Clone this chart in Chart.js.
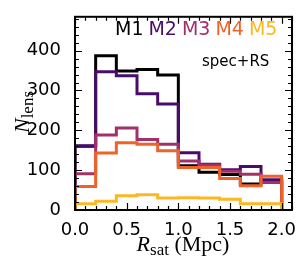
<!DOCTYPE html>
<html>
<head>
<meta charset="utf-8">
<script src="https://cdn.jsdelivr.net/npm/chart.js@4/dist/chart.umd.min.js"></script>
<style>
  html, body { margin: 0; padding: 0; background: #fff; }
  #wrap { width: 305px; height: 271px; }
</style>
</head>
<body>
<div id="wrap"><canvas id="c" width="305" height="271"></canvas></div>
<script>
// bin edges (Mpc), 10 bins of 0.2
var binEdges = [0.0, 0.2, 0.4, 0.6, 0.8, 1.0, 1.2, 1.4, 1.6, 1.8, 2.0];
var seriesNames = ['M1', 'M2', 'M3', 'M4', 'M5'];
var seriesColors = ['#000000', '#4a0c6b', '#a2306a', '#ef6228', '#fcb822'];

var m1 = [160, 387, 349, 353, 339, 111, 95, 89, 65, 73];
var m2 = [161, 347, 337, 292, 266, 144, 115, 101, 109, 76];
var m3 = [91, 188, 206, 177, 165, 123, 113, 97, 90, 69];
var m4 = [59, 143, 169, 165, 149, 107, 107, 79, 61, 85];
var m5 = [16, 22, 36, 38, 30, 31, 30, 27, 16, 16];

var xTicks = [0.0, 0.5, 1.0, 1.5, 2.0];
var yTicks = [0, 100, 200, 300, 400];

var FONT = 'DejaVu Sans';
var SERIF = 'Liberation Serif';

// step outline: rises at the first edge, falls at the last one
function stepPoints(counts) {
  var pts = [{x: binEdges[0], y: 0}];
  for (var i = 0; i < counts.length; i++) {
    pts.push({x: binEdges[i], y: counts[i]});
  }
  pts.push({x: binEdges[binEdges.length - 1], y: counts[counts.length - 1]});
  pts.push({x: binEdges[binEdges.length - 1], y: 0});
  return pts;
}

var allSeries = [m1, m2, m3, m4, m5];
var datasets = allSeries.map(function (s, i) {
  return {
    label: seriesNames[i],
    data: stepPoints(s),
    borderColor: seriesColors[i],
    borderWidth: 3,
    stepped: 'before',
    fill: false,
    pointRadius: 0,
    borderJoinStyle: 'miter',
    borderCapStyle: 'butt',
    order: allSeries.length - i   // later series on top
  };
});

// text with a subscript, starting at x
function subText(ctx, x, y, main, sub, rest) {
  ctx.font = 'italic 22px "' + SERIF + '"';
  ctx.fillText(main, x, y);
  x += ctx.measureText(main).width;
  ctx.font = '17px "' + SERIF + '"';
  ctx.fillText(sub, x, y + 4);
  x += ctx.measureText(sub).width;
  if (rest) {
    ctx.font = '22px "' + SERIF + '"';
    ctx.fillText(rest, x, y);
    x += ctx.measureText(rest).width;
  }
  return x;
}

var frame = {
  id: 'frame',
  afterDatasetsDraw: function (chart) {
    var ctx = chart.ctx, a = chart.chartArea;
    var xs = chart.scales.x, ys = chart.scales.y;
    ctx.save();
    ctx.strokeStyle = '#000';
    ctx.lineWidth = 1.2;
    ctx.beginPath();
    var v, p;
    // x ticks, bottom and top, pointing in
    for (v = 0; v <= 2.1001; v += 0.1) {
      p = Math.round(xs.getPixelForValue(v)) + 0.5;
      var major = Math.abs(v / 0.5 - Math.round(v / 0.5)) < 1e-6;
      var len = major ? 7 : 4;
      ctx.moveTo(p, a.bottom); ctx.lineTo(p, a.bottom - len);
      ctx.moveTo(p, a.top); ctx.lineTo(p, a.top + len);
    }
    for (v = 0; v <= 485; v += 20) {
      p = Math.round(ys.getPixelForValue(v)) + 0.5;
      var len2 = (v % 100 === 0) ? 7 : 4;
      ctx.moveTo(a.left, p); ctx.lineTo(a.left + len2, p);
      ctx.moveTo(a.right, p); ctx.lineTo(a.right - len2, p);
    }
    ctx.stroke();
    ctx.lineWidth = 2;
    ctx.strokeRect(a.left, a.top, a.right - a.left, a.bottom - a.top);

    // legend text in series colours
    ctx.font = '19px "' + FONT + '"';
    ctx.textBaseline = 'alphabetic';
    ctx.textAlign = 'left';
    var lx = 115;
    for (var i = 0; i < seriesNames.length; i++) {
      ctx.fillStyle = seriesColors[i];
      ctx.fillText(seriesNames[i], lx, 35);
      lx += ctx.measureText(seriesNames[i]).width + 5;
    }
    ctx.fillStyle = '#000';
    ctx.font = '15px "' + FONT + '"';
    ctx.fillText('spec+RS', 202, 66);

    // axis titles: measure first, then draw centred
    ctx.globalAlpha = 0;
    var wx = subText(ctx, 0, 0, 'R', 'sat', ' (Mpc)');
    var wy = subText(ctx, 0, 0, 'N', 'lens');
    ctx.globalAlpha = 1;
    subText(ctx, 183 - wx / 2, 251, 'R', 'sat', ' (Mpc)');

    ctx.translate(29, 112);
    ctx.rotate(-Math.PI / 2);
    subText(ctx, -wy / 2, 0, 'N', 'lens');
    ctx.restore();
  }
};

new Chart(document.getElementById('c'), {
  type: 'line',
  data: { datasets: datasets },
  options: {
    responsive: false,
    animation: false,
    layout: { padding: { top: 10, right: 13, left: 0, bottom: 0 } },
    plugins: { legend: { display: false }, tooltip: { enabled: false } },
    scales: {
      x: {
        type: 'linear',
        min: 0,
        max: 2.1,
        grid: { display: false },
        border: { display: false },
        afterBuildTicks: function (s) { s.ticks = xTicks.map(function (v) { return {value: v}; }); },
        afterFit: function (s) { s.height = 61; },
        ticks: {
          padding: 2,
          color: '#000',
          font: { family: FONT, size: 18 },
          maxRotation: 0,
          callback: function (v) { return Number(v).toFixed(1); }
        }
      },
      y: {
        min: 0,
        max: 485,
        grid: { display: false },
        border: { display: false },
        afterBuildTicks: function (s) { s.ticks = yTicks.map(function (v) { return {value: v}; }); },
        afterFit: function (s) { s.width = 75; },
        ticks: {
          padding: 6,
          color: '#000',
          font: { family: FONT, size: 18 }
        }
      }
    }
  },
  plugins: [frame]
});
</script>
</body>
</html>
